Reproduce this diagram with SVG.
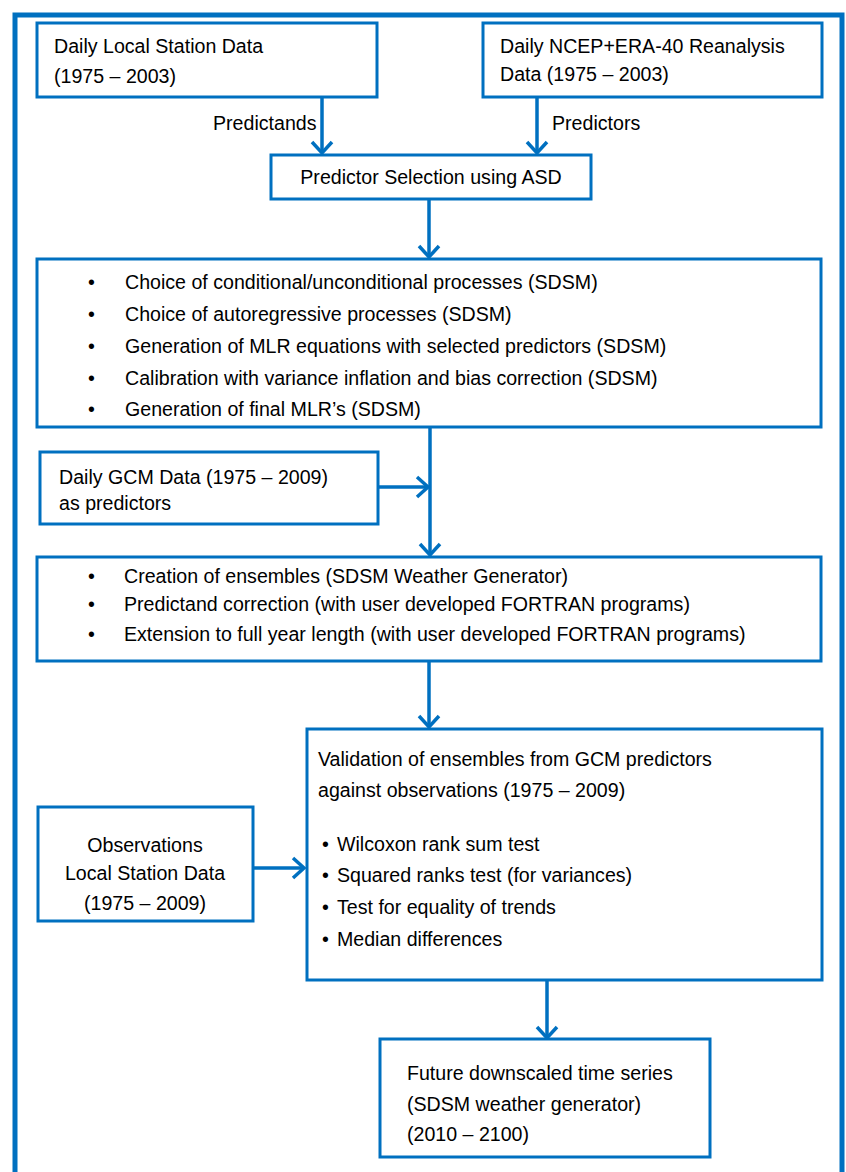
<svg xmlns="http://www.w3.org/2000/svg" width="846" height="1172" viewBox="0 0 846 1172">
<defs>
<style>
.box{fill:#fff;stroke:#0070C0;stroke-width:3}
.t{font-family:"Liberation Sans",Arial,sans-serif;font-size:19.6px;fill:#000}
.c{stroke:#0070C0;stroke-width:3.5;fill:none}
</style>
<marker id="ah" markerUnits="userSpaceOnUse" markerWidth="30" markerHeight="30" viewBox="-15 -15 30 30" refX="0" refY="0" orient="auto">
<path d="M-11,-10 L0,0 L-11,10" fill="none" stroke="#0070C0" stroke-width="3.5"/>
</marker>
</defs>
<rect width="846" height="1172" fill="#fff"/>
<path d="M15,1180 L15,15 L842,15 L842,1180" fill="none" stroke="#0070C0" stroke-width="5"/>
<g id="connectors">
<line class="c" x1="322" y1="97" x2="322" y2="153" marker-end="url(#ah)"/>
<line class="c" x1="537" y1="97" x2="537" y2="153" marker-end="url(#ah)"/>
<line class="c" x1="429" y1="199" x2="429" y2="257" marker-end="url(#ah)"/>
<line class="c" x1="430" y1="427" x2="430" y2="555" marker-end="url(#ah)"/>
<line class="c" x1="378" y1="487" x2="428" y2="487" marker-end="url(#ah)"/>
<line class="c" x1="429" y1="661" x2="429" y2="727" marker-end="url(#ah)"/>
<line class="c" x1="253" y1="868" x2="304" y2="868" marker-end="url(#ah)"/>
<line class="c" x1="547" y1="980" x2="547" y2="1038" marker-end="url(#ah)"/>
<text class="t" x="213" y="130">Predictands</text>
<text class="t" x="552" y="130">Predictors</text>
</g>
<g id="n1"><rect class="box" x="37" y="23" width="340" height="74"/>
<text class="t" x="54" y="53">Daily Local Station Data</text>
<text class="t" x="54" y="83">(1975 – 2003)</text></g>
<g id="n2"><rect class="box" x="483" y="23" width="339" height="74"/>
<text class="t" x="500" y="53">Daily NCEP+ERA-40 Reanalysis</text>
<text class="t" x="500" y="81">Data (1975 – 2003)</text></g>
<g id="n3"><rect class="box" x="271" y="155" width="320" height="44"/>
<text class="t" x="431" y="184" text-anchor="middle">Predictor Selection using ASD</text></g>
<g id="n4"><rect class="box" x="37" y="259" width="784" height="168"/>
<g class="t">
<text x="88" y="289">•</text><text x="125" y="289">Choice of conditional/unconditional processes (SDSM)</text>
<text x="88" y="321">•</text><text x="125" y="321">Choice of autoregressive processes (SDSM)</text>
<text x="88" y="353">•</text><text x="125" y="353">Generation of MLR equations with selected predictors (SDSM)</text>
<text x="88" y="385">•</text><text x="125" y="385">Calibration with variance inflation and bias correction (SDSM)</text>
<text x="88" y="416">•</text><text x="125" y="416">Generation of final MLR’s (SDSM)</text>
</g></g>
<g id="n5"><rect class="box" x="40" y="452" width="338" height="72"/>
<text class="t" x="59" y="484">Daily GCM Data (1975 – 2009)</text>
<text class="t" x="59" y="510">as predictors</text></g>
<g id="n6"><rect class="box" x="37" y="557" width="784" height="104"/>
<g class="t">
<text x="88" y="583">•</text><text x="124" y="583">Creation of ensembles (SDSM Weather Generator)</text>
<text x="88" y="611">•</text><text x="124" y="611">Predictand correction (with user developed FORTRAN programs)</text>
<text x="88" y="641">•</text><text x="124" y="641">Extension to full year length (with user developed FORTRAN programs)</text>
</g></g>
<g id="n7"><rect class="box" x="307" y="729" width="515" height="251"/>
<g class="t">
<text x="318" y="766">Validation of ensembles from GCM predictors</text>
<text x="318" y="797">against observations (1975 – 2009)</text>
<text x="322" y="851">•</text><text x="337" y="851">Wilcoxon rank sum test</text>
<text x="322" y="882">•</text><text x="337" y="882">Squared ranks test (for variances)</text>
<text x="322" y="914">•</text><text x="337" y="914">Test for equality of trends</text>
<text x="322" y="946">•</text><text x="337" y="946">Median differences</text>
</g></g>
<g id="n8"><rect class="box" x="38" y="807" width="215" height="114"/>
<g class="t" text-anchor="middle">
<text x="145" y="852">Observations</text>
<text x="145" y="880">Local Station Data</text>
<text x="145" y="910">(1975 – 2009)</text>
</g></g>
<g id="n9"><rect class="box" x="380" y="1039" width="330" height="118"/>
<g class="t">
<text x="407" y="1080">Future downscaled time series</text>
<text x="407" y="1111">(SDSM weather generator)</text>
<text x="407" y="1141">(2010 – 2100)</text>
</g></g>
</svg>
